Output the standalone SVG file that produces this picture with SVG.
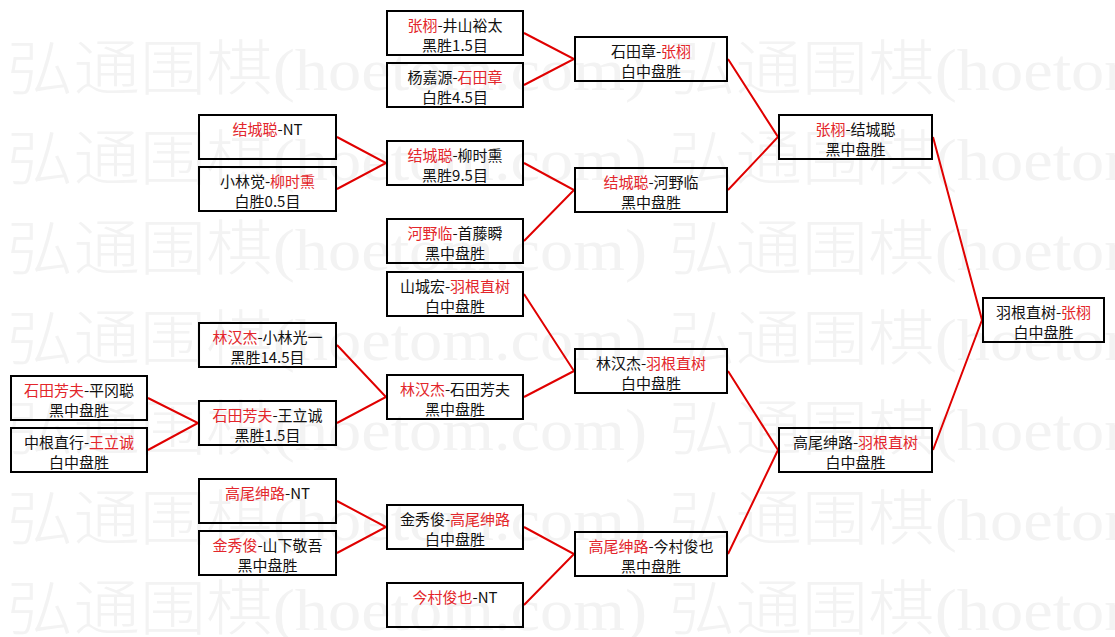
<svg xmlns="http://www.w3.org/2000/svg" width="1115" height="637" viewBox="0 0 1115 637">
<style>
.wm{font-family:"Liberation Serif","Noto Sans CJK SC",serif;font-size:60px;font-weight:300;fill:#f3f3f3;}
.n rect{fill:none;stroke:#000;stroke-width:2;}
.n text{font-family:"Noto Sans CJK SC",sans-serif;font-size:15px;fill:#111;text-anchor:middle;}
.n tspan.r{fill:#e3262b;}
#connectors polyline{fill:none;stroke:#e00000;stroke-width:2;}
</style>
<rect x="0" y="0" width="1115" height="637" fill="#ffffff"/>
<g id="watermark">
<text class="wm" x="7" y="90" textLength="640" lengthAdjust="spacingAndGlyphs">弘通围棋(hoetom.com)</text>
<text class="wm" x="669" y="90" textLength="640" lengthAdjust="spacingAndGlyphs">弘通围棋(hoetom.com)</text>
<text class="wm" x="7" y="180" textLength="640" lengthAdjust="spacingAndGlyphs">弘通围棋(hoetom.com)</text>
<text class="wm" x="669" y="180" textLength="640" lengthAdjust="spacingAndGlyphs">弘通围棋(hoetom.com)</text>
<text class="wm" x="7" y="270" textLength="640" lengthAdjust="spacingAndGlyphs">弘通围棋(hoetom.com)</text>
<text class="wm" x="669" y="270" textLength="640" lengthAdjust="spacingAndGlyphs">弘通围棋(hoetom.com)</text>
<text class="wm" x="7" y="360" textLength="640" lengthAdjust="spacingAndGlyphs">弘通围棋(hoetom.com)</text>
<text class="wm" x="669" y="360" textLength="640" lengthAdjust="spacingAndGlyphs">弘通围棋(hoetom.com)</text>
<text class="wm" x="7" y="450" textLength="640" lengthAdjust="spacingAndGlyphs">弘通围棋(hoetom.com)</text>
<text class="wm" x="669" y="450" textLength="640" lengthAdjust="spacingAndGlyphs">弘通围棋(hoetom.com)</text>
<text class="wm" x="7" y="540" textLength="640" lengthAdjust="spacingAndGlyphs">弘通围棋(hoetom.com)</text>
<text class="wm" x="669" y="540" textLength="640" lengthAdjust="spacingAndGlyphs">弘通围棋(hoetom.com)</text>
<text class="wm" x="7" y="630" textLength="640" lengthAdjust="spacingAndGlyphs">弘通围棋(hoetom.com)</text>
<text class="wm" x="669" y="630" textLength="640" lengthAdjust="spacingAndGlyphs">弘通围棋(hoetom.com)</text>
</g>
<g id="connectors">
<polyline points="524,33 574,59 524,85"/>
<polyline points="337,137 386,163 337,189"/>
<polyline points="524,163 574,190 524,241"/>
<polyline points="728,59 778,137 728,190"/>
<polyline points="524,294 574,371 524,397"/>
<polyline points="337,345 386,397 337,423"/>
<polyline points="148,398 198,423 148,450"/>
<polyline points="337,501 386,527 337,553"/>
<polyline points="524,527 574,554 524,605"/>
<polyline points="728,371 778,450 728,554"/>
<polyline points="933,137 982,320 933,450"/>
</g>
<g id="n1a" class="n"><rect x="11" y="376" width="136" height="44"/><text x="79" y="396"><tspan class="r">石田芳夫</tspan>-平冈聪</text><text x="79" y="416">黑中盘胜</text></g>
<g id="n1b" class="n"><rect x="11" y="428" width="136" height="44"/><text x="79" y="448">中根直行-<tspan class="r">王立诚</tspan></text><text x="79" y="468">白中盘胜</text></g>
<g id="n2a" class="n"><rect x="199" y="115" width="137" height="44"/><text x="267.5" y="135"><tspan class="r">结城聪</tspan>-NT</text></g>
<g id="n2b" class="n"><rect x="199" y="167" width="137" height="44"/><text x="267.5" y="187">小林觉-<tspan class="r">柳时熏</tspan></text><text x="267.5" y="207">白胜0.5目</text></g>
<g id="n2c" class="n"><rect x="199" y="323" width="137" height="44"/><text x="267.5" y="343"><tspan class="r">林汉杰</tspan>-小林光一</text><text x="267.5" y="363">黑胜14.5目</text></g>
<g id="n2d" class="n"><rect x="199" y="401" width="137" height="44"/><text x="267.5" y="421"><tspan class="r">石田芳夫</tspan>-王立诚</text><text x="267.5" y="441">黑胜1.5目</text></g>
<g id="n2e" class="n"><rect x="199" y="479" width="137" height="44"/><text x="267.5" y="499"><tspan class="r">高尾绅路</tspan>-NT</text></g>
<g id="n2f" class="n"><rect x="199" y="531" width="137" height="44"/><text x="267.5" y="551"><tspan class="r">金秀俊</tspan>-山下敬吾</text><text x="267.5" y="571">黑中盘胜</text></g>
<g id="n3a" class="n"><rect x="387" y="11" width="136" height="44"/><text x="455" y="31"><tspan class="r">张栩</tspan>-井山裕太</text><text x="455" y="51">黑胜1.5目</text></g>
<g id="n3b" class="n"><rect x="387" y="63" width="136" height="44"/><text x="455" y="83">杨嘉源-<tspan class="r">石田章</tspan></text><text x="455" y="103">白胜4.5目</text></g>
<g id="n3c" class="n"><rect x="387" y="141" width="136" height="44"/><text x="455" y="161"><tspan class="r">结城聪</tspan>-柳时熏</text><text x="455" y="181">黑胜9.5目</text></g>
<g id="n3d" class="n"><rect x="387" y="219" width="136" height="44"/><text x="455" y="239"><tspan class="r">河野临</tspan>-首藤瞬</text><text x="455" y="259">黑中盘胜</text></g>
<g id="n3e" class="n"><rect x="387" y="272" width="136" height="44"/><text x="455" y="292">山城宏-<tspan class="r">羽根直树</tspan></text><text x="455" y="312">白中盘胜</text></g>
<g id="n3f" class="n"><rect x="387" y="375" width="136" height="44"/><text x="455" y="395"><tspan class="r">林汉杰</tspan>-石田芳夫</text><text x="455" y="415">黑中盘胜</text></g>
<g id="n3g" class="n"><rect x="387" y="505" width="136" height="44"/><text x="455" y="525">金秀俊-<tspan class="r">高尾绅路</tspan></text><text x="455" y="545">白中盘胜</text></g>
<g id="n3h" class="n"><rect x="387" y="583" width="136" height="44"/><text x="455" y="603"><tspan class="r">今村俊也</tspan>-NT</text></g>
<g id="n4a" class="n"><rect x="575" y="37" width="152" height="44"/><text x="651" y="57">石田章-<tspan class="r">张栩</tspan></text><text x="651" y="77">白中盘胜</text></g>
<g id="n4b" class="n"><rect x="575" y="168" width="152" height="44"/><text x="651" y="188"><tspan class="r">结城聪</tspan>-河野临</text><text x="651" y="208">黑中盘胜</text></g>
<g id="n4c" class="n"><rect x="575" y="349" width="152" height="44"/><text x="651" y="369">林汉杰-<tspan class="r">羽根直树</tspan></text><text x="651" y="389">白中盘胜</text></g>
<g id="n4d" class="n"><rect x="575" y="532" width="152" height="44"/><text x="651" y="552"><tspan class="r">高尾绅路</tspan>-今村俊也</text><text x="651" y="572">黑中盘胜</text></g>
<g id="n5a" class="n"><rect x="779" y="115" width="153" height="44"/><text x="855.5" y="135"><tspan class="r">张栩</tspan>-结城聪</text><text x="855.5" y="155">黑中盘胜</text></g>
<g id="n5b" class="n"><rect x="779" y="428" width="153" height="44"/><text x="855.5" y="448">高尾绅路-<tspan class="r">羽根直树</tspan></text><text x="855.5" y="468">白中盘胜</text></g>
<g id="n6" class="n"><rect x="983" y="298" width="121" height="44"/><text x="1043.5" y="318">羽根直树-<tspan class="r">张栩</tspan></text><text x="1043.5" y="338">白中盘胜</text></g>
</svg>
